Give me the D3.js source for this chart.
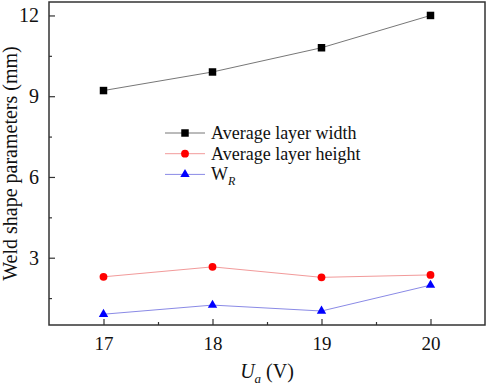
<!DOCTYPE html>
<html><head><meta charset="utf-8">
<script src="https://cdn.jsdelivr.net/npm/d3@7"></script>
<style>body{margin:0;background:#fff}svg{display:block}text{font-family:"Liberation Serif","Times New Roman",serif}</style>
</head><body>
<svg id="c" width="491" height="390"></svg>
<script>
const voltages = [17, 18, 19, 20];
const avgWidth = [9.21, 9.9, 10.8, 12.0];
const avgHeight = [2.29, 2.66, 2.27, 2.36];
const wR = [0.9, 1.24, 1.02, 1.98];
const xTicks = [17, 18, 19, 20];
const yTicks = [3, 6, 9, 12];

const svg = d3.select("#c");
const L = 49, R = 485, T = 2, B = 325;
const x = d3.scaleLinear().domain([16.5, 20.5]).range([L, R]);
const y = d3.scaleLinear().domain([0.5, 12.5]).range([B, T]);

const series = [
  {name: "Average layer width", vals: avgWidth, line: "#777", fill: "#000", sym: d3.symbolSquare, size: 56},
  {name: "Average layer height", vals: avgHeight, line: "#f29a9a", fill: "#ff0000", sym: d3.symbolCircle, size: 48},
  {name: "W", sub: "R", vals: wR, line: "#8a8ae6", fill: "#0000ff", sym: d3.symbolTriangle, size: 38}
];

// axes with inward ticks
const axisCol = "#333";
const gx = svg.append("g").attr("transform", `translate(0,${B})`)
  .call(d3.axisBottom(x).tickValues(xTicks).tickFormat(d3.format("d")).tickSizeInner(-6).tickSizeOuter(0).tickPadding(12));
const gxm = svg.append("g").attr("transform", `translate(0,${B})`)
  .call(d3.axisBottom(x).tickValues([17.5, 18.5, 19.5]).tickFormat("").tickSizeInner(-3).tickSizeOuter(0));
const gy = svg.append("g").attr("transform", `translate(${L},0)`)
  .call(d3.axisLeft(y).tickValues(yTicks).tickFormat(d3.format("d")).tickSizeInner(-6).tickSizeOuter(0).tickPadding(10));
const gym = svg.append("g").attr("transform", `translate(${L},0)`)
  .call(d3.axisLeft(y).tickValues([1.5, 4.5, 7.5, 10.5]).tickFormat("").tickSizeInner(-3).tickSizeOuter(0));
[gx, gxm, gy, gym].forEach(g => {
  g.select(".domain").remove();
  g.selectAll("line").attr("stroke", axisCol).attr("stroke-width", 1.2);
  g.selectAll("text").attr("fill", "#111").style("font-family", '"Liberation Serif",serif');
});
gx.selectAll("text").style("font-size", "19px");
gy.selectAll("text").style("font-size", "20px");

svg.append("rect").attr("x", L).attr("y", T).attr("width", R - L).attr("height", B - T)
  .attr("fill", "none").attr("stroke", axisCol).attr("stroke-width", 1.5);

// series
const line = d3.line().x((d, i) => x(voltages[i])).y(d => y(d));
series.forEach(s => {
  svg.append("path").attr("d", line(s.vals)).attr("fill", "none").attr("stroke", s.line).attr("stroke-width", 1);
  svg.selectAll(null).data(s.vals).enter().append("path")
    .attr("d", d3.symbol().type(s.sym).size(s.size))
    .attr("transform", (d, i) => `translate(${x(voltages[i])},${y(d)})`)
    .attr("fill", s.fill);
});

// legend
const lg = svg.append("g");
series.forEach((s, i) => {
  const cy = 133 + i * 20.7;
  lg.append("line").attr("x1", 165).attr("x2", 205).attr("y1", cy).attr("y2", cy).attr("stroke", s.line).attr("stroke-width", 1);
  lg.append("path").attr("d", d3.symbol().type(s.sym).size(s.size)).attr("transform", `translate(185,${cy})`).attr("fill", s.fill);
  const t = lg.append("text").attr("x", 211).attr("y", cy + 6).attr("font-size", 18).attr("fill", "#111").text(s.name);
  if (s.sub) t.append("tspan").attr("dy", 5).attr("font-size", 12).attr("font-style", "italic").text(s.sub);
});

// axis titles
svg.append("text").attr("transform", `translate(17,${(T + B) / 2}) rotate(-90)`).attr("text-anchor", "middle")
  .attr("font-size", 20).attr("fill", "#111").text("Weld shape parameters (mm)");
const xt = svg.append("text").attr("x", (L + R) / 2).attr("y", 378).attr("text-anchor", "middle").attr("font-size", 20).attr("fill", "#111");
xt.append("tspan").attr("font-style", "italic").text("U");
xt.append("tspan").attr("font-style", "italic").attr("font-size", 13).attr("dy", 5).text("a");
xt.append("tspan").attr("dy", -5).text(" (V)");
</script>
</body></html>
